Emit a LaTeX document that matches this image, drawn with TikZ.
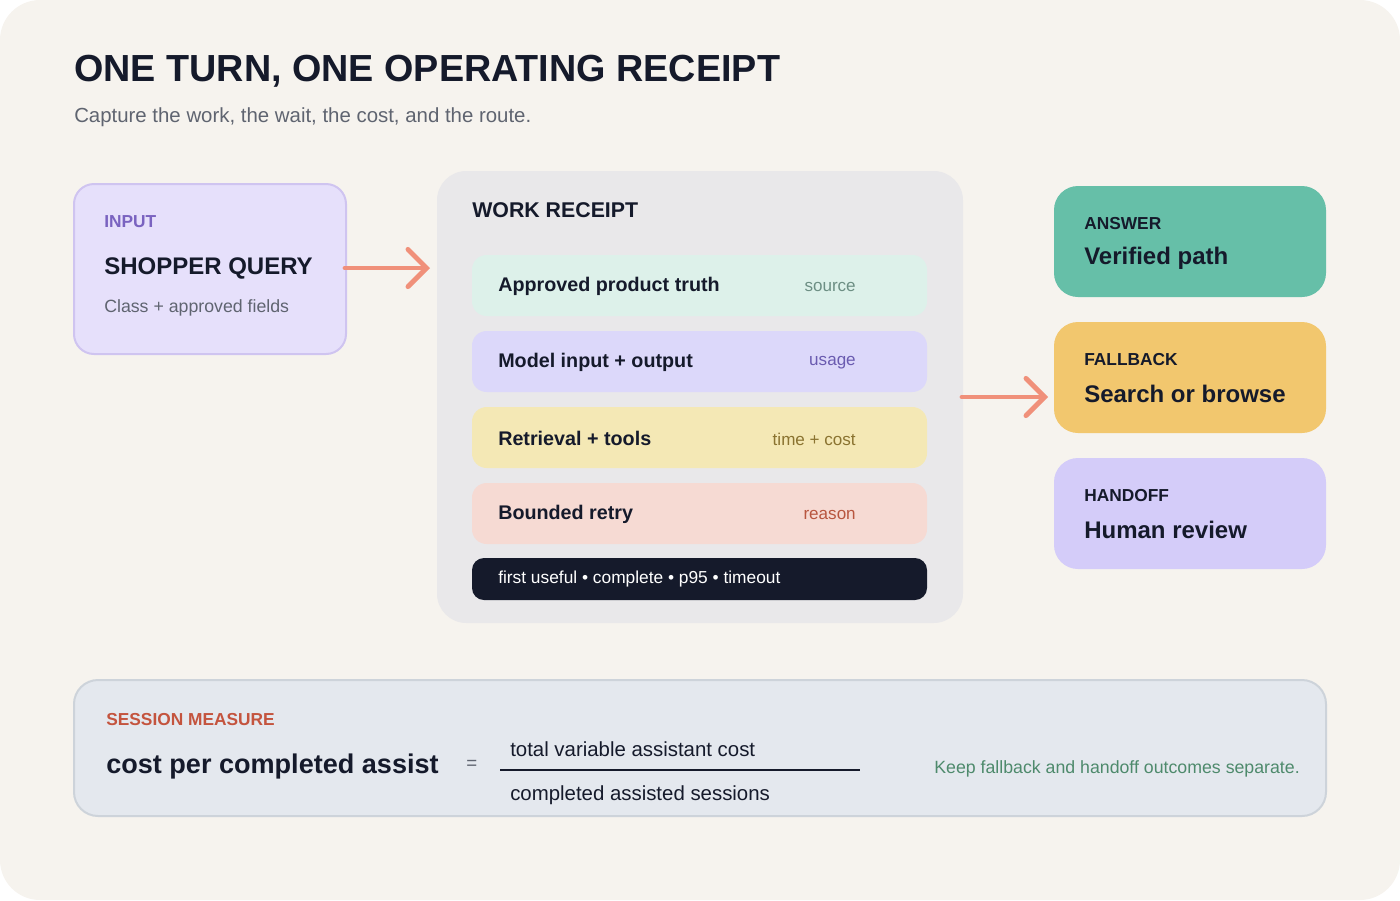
\documentclass[tikz,border=0pt]{standalone}
\usepackage{fontspec}
\setmainfont{Liberation Sans}
\usetikzlibrary{arrows.meta}
\definecolor{bgpage}{HTML}{F6F3EE}
\definecolor{ink}{HTML}{151A2B}
\definecolor{mute}{HTML}{5F6470}
\definecolor{lav}{HTML}{E6E0FB}
\definecolor{lavline}{HTML}{CFC4F0}
\definecolor{lavtext}{HTML}{7A63C0}
\definecolor{salmon}{HTML}{F0907A}
\definecolor{panel}{HTML}{E9E8EA}
\definecolor{rowa}{HTML}{DDF1EA}
\definecolor{rowb}{HTML}{DCD8FA}
\definecolor{rowc}{HTML}{F4E8B5}
\definecolor{rowd}{HTML}{F6DAD3}
\definecolor{tagA}{HTML}{6D8F84}
\definecolor{tagB}{HTML}{6A5BB0}
\definecolor{tagC}{HTML}{8A7330}
\definecolor{tagD}{HTML}{B8563F}
\definecolor{answer}{HTML}{66BFA8}
\definecolor{fallback}{HTML}{F2C76E}
\definecolor{handoff}{HTML}{D4CCF9}
\definecolor{sess}{HTML}{E4E8EE}
\definecolor{sessline}{HTML}{CDD3DA}
\definecolor{sessred}{HTML}{C4543E}
\definecolor{note}{HTML}{4E8A6C}
\tikzset{
  txt/.style={anchor=west,inner sep=0pt,text=ink},
  tag/.style={anchor=east,inner sep=0pt,font=\fontsize{12.8}{14}\selectfont},
  row/.style={rounded corners=11pt},
  kicker/.style={txt,font=\fontsize{13}{14}\selectfont\bfseries},
  head/.style={txt,font=\fontsize{18}{20}\selectfont\bfseries},
  flow/.style={salmon,line width=3.6pt,line cap=round,-{Straight Barb[length=14pt,width=28pt,line cap=round]}}
}
\begin{document}
\begin{tikzpicture}[x=0.75pt,y=-0.75pt]
  \useasboundingbox (0,0) rectangle (1400,900);
  \fill[bgpage,rounded corners=30pt] (0,0) rectangle (1400,900);
  % title
  \node[txt,font=\fontsize{28.3}{30}\selectfont\bfseries] (title) at (74,71) {ONE TURN, ONE OPERATING RECEIPT};
  \node[txt,text=mute,font=\fontsize{15.3}{17}\selectfont] (sub) at (74,117) {Capture the work, the wait, the cost, and the route.};
  % input
  \draw[fill=lav,draw=lavline,line width=1.5pt,rounded corners=15pt] (74,184) rectangle (346,354);
  \node[kicker,text=lavtext] (inlab) at (104,222) {INPUT};
  \node[head] (query) at (104,268) {SHOPPER QUERY};
  \node[txt,text=mute,font=\fontsize{13.3}{15}\selectfont] at (104,308) {Class + approved fields};
  \coordinate (inA) at (345,268);
  \coordinate (inB) at (430,268);
  \draw[flow] (inA) -- (inB);
  % work receipt
  \fill[panel,rounded corners=22pt] (437,171) rectangle (963,623);
  \node[txt,font=\fontsize{16}{18}\selectfont\bfseries] (work) at (472,210) {WORK RECEIPT};
  \foreach \y/\c/\t/\r/\k in {255/rowa/Approved product truth/source/tagA,
                             331/rowb/Model input + output/usage/tagB,
                             407/rowc/Retrieval + tools/time + cost/tagC,
                             483/rowd/Bounded retry/reason/tagD}{%
    \fill[\c,row] (472,\y) rectangle (927,\y+61);
    \node[txt,font=\fontsize{14.8}{16}\selectfont\bfseries] at (498,\y+31) {\t};
    \node[tag,text=\k] at (856,\y+32) {\r};
  }
  \fill[ink,rounded corners=9pt] (472,558) rectangle (927,600);
  \node[txt,text=white,font=\fontsize{13}{14}\selectfont] (timing) at (498,579) {first useful • complete • p95 • timeout};
  \coordinate (outA) at (962,397);
  \coordinate (outB) at (1048,397);
  \draw[flow] (outA) -- (outB);
  % outcomes
  \foreach \y/\c/\k/\t in {186/answer/ANSWER/Verified path,
                          322/fallback/FALLBACK/Search or browse,
                          458/handoff/HANDOFF/Human review}{%
    \fill[\c,rounded corners=18pt] (1054,\y) rectangle (1326,\y+111);
    \node[kicker] at (1084,\y+38) {\k};
    \node[head] at (1084,\y+72) {\t};
  }
  % session measure
  \draw[fill=sess,draw=sessline,line width=1.5pt,rounded corners=18pt] (74,680) rectangle (1326,816);
  \node[kicker,text=sessred] (sm) at (106,720) {SESSION MEASURE};
  \node[txt,font=\fontsize{20.3}{22}\selectfont\bfseries] (cpa) at (106,766) {cost per completed assist};
  \node[txt,text=mute,font=\fontsize{14}{16}\selectfont] (eq) at (466,765) {=};
  \node[txt,font=\fontsize{15.3}{17}\selectfont] (num) at (510,749) {total variable assistant cost};
  \node[txt,font=\fontsize{15.3}{17}\selectfont] (den) at (510,795) {completed assisted sessions};
  \draw[ink,line width=1.2pt] (500,770) -- (860,770);
  \node[anchor=east,inner sep=0pt,text=note,font=\fontsize{13.3}{15}\selectfont] (keep) at (1300,769) {Keep fallback and handoff outcomes separate.};
\end{tikzpicture}
\end{document}
